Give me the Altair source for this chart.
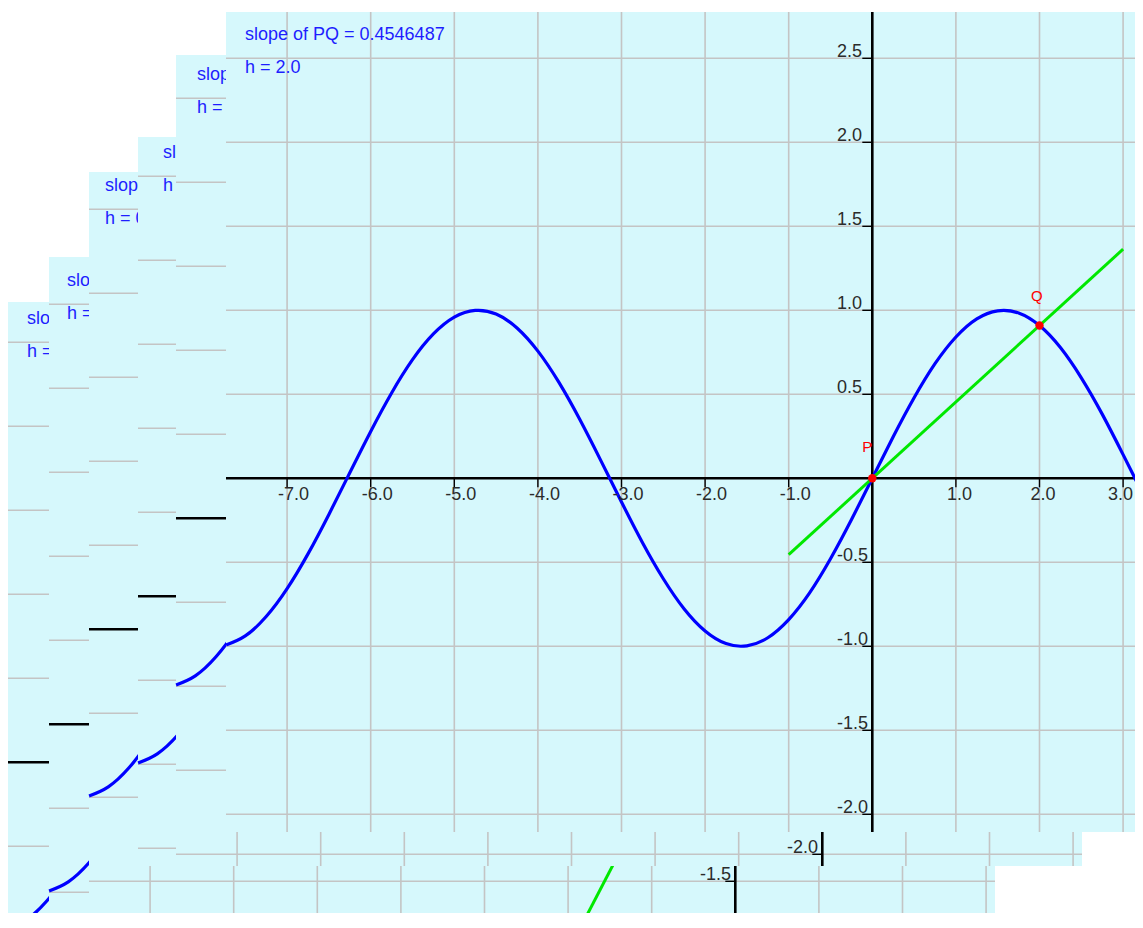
import altair as alt
import pandas as pd

# ---------------- data ----------------
# sampled points of the plotted curve (x, y)
curve_x = [-7.73, -7.5, -7.25, -7.0, -6.75, -6.5, -6.25, -6.0, -5.75, -5.5, -5.25, -5.0,
           -4.75, -4.5, -4.25, -4.0, -3.75, -3.5, -3.25, -3.0, -2.75, -2.5, -2.25, -2.0,
           -1.75, -1.5, -1.25, -1.0, -0.75, -0.5, -0.25, 0.0, 0.25, 0.5, 0.75, 1.0, 1.25,
           1.5, 1.75, 2.0, 2.25, 2.5, 2.75, 3.0, 3.25]
curve_y = [-0.992, -0.938, -0.823, -0.657, -0.450, -0.215, 0.033, 0.279, 0.508, 0.706,
           0.859, 0.959, 0.999, 0.978, 0.895, 0.757, 0.572, 0.351, 0.108, -0.141, -0.382,
           -0.598, -0.778, -0.909, -0.984, -0.997, -0.949, -0.841, -0.682, -0.479, -0.247,
           0.0, 0.247, 0.479, 0.682, 0.841, 0.949, 0.997, 0.984, 0.909, 0.778, 0.598,
           0.382, 0.141, -0.108]

grid_x = [-7, -6, -5, -4, -3, -2, -1, 1, 2, 3]
x_labels = ["-7.0", "-6.0", "-5.0", "-4.0", "-3.0", "-2.0", "-1.0", "1.0", "2.0", "3.0"]
grid_y = [2.5, 2.0, 1.5, 1.0, 0.5, -0.5, -1.0, -1.5, -2.0]
y_labels = ["2.5", "2.0", "1.5", "1.0", "0.5", "-0.5", "-1.0", "-1.5", "-2.0"]

# stacked frames, from the back one to the front one
frame_h = [0.1, 0.25, 0.5, 1.0, 1.5, 2.0]
frame_h_text = ["0.1", "0.25", "0.5", "1.0", "1.5", "2.0"]
frame_slope = [0.9983342, 0.9896158, 0.9588511, 0.841471, 0.6649967, 0.4546487]
frame_slope_text = ["0.9983342", "0.9896158", "0.9588511", "0.841471", "0.6649967", "0.4546487"]
secant_x0 = [-0.05, -0.125, -2.0, -0.5, -0.75, -1.0]
secant_x1 = [0.15, 0.375, 1.0, 1.5, 2.25, 3.0]

# ---------------- layout (page pixels) ----------------
PX0, PPX = 872.3, 83.6     # page x of x=0, pixels per x unit
PY0, PPY = 478.3, 168.0    # page y of y=0, pixels per y unit
W, H = 1127, 905
PAGE_L, PAGE_T = 8, 8
LABEL_W = 27               # room kept for an x label at the right edge

# frame offset (dx, dy), visible window rectangle (left, top, right, bottom), text shift
FRAMES = [
    (-219, 284, 7, 302, 913, 1000, -218),
    (-177, 246, 49, 257, 955, 915, -178),
    (-137, 151, 89, 172, 995, 1000, -140),
    (-88, 118, 138, 137, 1044, 866, -82),
    (-50, 40, 176, 55, 1082, 866, -48),
    (0, 0, 226, 12, 1200, 832, 0),
]

BG = "#d6f8fc"
GRID = "#c4c4c4"
AXIS = "#000000"
BLUE = "#0000ff"
GREEN = "#00e800"
RED = "#ff0000"
TXT_BLUE = "#1e1eff"
LABEL = "#2b2b2b"
FONT = "Liberation Sans"


def X(px):
    return (px - PX0) / PPX


def Y(py):
    return (PY0 - py) / PPY


Y_BOTTOM = Y(PAGE_T + H)
X_RIGHT = X(PAGE_L + W)
xs = alt.Scale(domain=[X(PAGE_L), X_RIGHT], nice=False, zero=False)
ys = alt.Scale(domain=[Y_BOTTOM, Y(PAGE_T)], nice=False, zero=False)


def enc_xy(ch):
    return ch.encode(
        x=alt.X("x:Q", scale=xs, axis=None),
        y=alt.Y("y:Q", scale=ys, axis=None),
    )


layers = []
for i, (dx, dy, left, top, right, bottom, tdx) in enumerate(FRAMES):
    sx, sy = dx / PPX, -dy / PPY
    lx0, lx1 = X(left - dx), X(right - dx)
    ly0, ly1 = Y(top - dy), Y(bottom - dy)
    h = frame_h[i]
    m = frame_slope[i]

    # window background
    bg = pd.DataFrame({"x": [X(left)], "x2": [X(right)], "y": [Y(top)], "y2": [Y(bottom)]})
    layers.append(
        alt.Chart(bg).mark_rect(color=BG, clip=True).encode(
            x=alt.X("x:Q", scale=xs, axis=None), x2="x2",
            y=alt.Y("y:Q", scale=ys, axis=None), y2="y2")
    )

    # grid, axes and ticks
    rows = []
    for gx in grid_x:
        rows.append((gx, gx, ly0, ly1, GRID, 1.6))
    for gy in grid_y:
        rows.append((lx0, lx1, gy, gy, GRID, 1.6))
    rows.append((lx0, lx1, 0.0, 0.0, AXIS, 2.6))
    rows.append((0.0, 0.0, ly0, ly1, AXIS, 2.6))
    for gy in grid_y:
        rows.append((-10 / PPX, 0.0, gy, gy, AXIS, 1.4))
    for gx in grid_x:
        rows.append((gx, gx, 0.0, -9 / PPY, AXIS, 1.4))
    rules = pd.DataFrame(rows, columns=["x", "x2", "y", "y2", "c", "w"])
    rules["x"] += sx
    rules["x2"] += sx
    rules["y"] += sy
    rules["y2"] += sy
    layers.append(
        alt.Chart(rules).mark_rule(clip=True).encode(
            x=alt.X("x:Q", scale=xs, axis=None), x2="x2",
            y=alt.Y("y:Q", scale=ys, axis=None), y2="y2",
            color=alt.Color("c:N", scale=None),
            strokeWidth=alt.StrokeWidth("w:Q", scale=None))
    )

    # the curve
    cdf = pd.DataFrame({"x": [v + sx for v in curve_x], "y": [v + sy for v in curve_y]})
    layers.append(enc_xy(alt.Chart(cdf).mark_line(color=BLUE, strokeWidth=3.2,
                                                    interpolate="natural", clip=True)))

    # the secant line PQ
    sdf = pd.DataFrame({"x": [secant_x0[i] + sx, secant_x1[i] + sx],
                        "y": [m * secant_x0[i] + sy, m * secant_x1[i] + sy]})
    layers.append(enc_xy(alt.Chart(sdf).mark_line(color=GREEN, strokeWidth=3, clip=True)))

    # points P and Q
    pdf = pd.DataFrame({"x": [0.0 + sx, h + sx], "y": [0.0 + sy, m * h + sy]})
    layers.append(enc_xy(alt.Chart(pdf).mark_circle(color=RED, size=70, opacity=1, clip=True)))

    # texts
    trows = []
    trows.append((X(245) + (tdx - dx) / PPX, Y(40), "slope of PQ = " + frame_slope_text[i], TXT_BLUE, 18))
    trows.append((X(245) + (tdx - dx) / PPX, Y(73), "h = " + frame_h_text[i], TXT_BLUE, 18))
    trows.append((-10 / PPX, 26 / PPY, "P", RED, 15))
    trows.append((h - 8.5 / PPX, m * h + 24.5 / PPY, "Q", RED, 15))
    for gx, lab in zip(grid_x, x_labels):
        # keep a label at the right edge of the picture whole
        lx = min(gx - 9 / PPX, X_RIGHT - sx - LABEL_W / PPX)
        trows.append((lx, -21.7 / PPY, lab, LABEL, 18))
    for gy, lab in zip(grid_y, y_labels):
        trows.append((X(837), gy + 1 / PPY, lab, LABEL, 18))
    tdf = pd.DataFrame(trows, columns=["x", "y", "t", "c", "s"])
    tdf["x"] += sx
    tdf["y"] += sy
    # texts lying wholly below the picture are never seen
    tdf = tdf[tdf["y"] > Y_BOTTOM]
    layers.append(
        alt.Chart(tdf).mark_text(align="left", baseline="alphabetic", font=FONT, clip=True).encode(
            x=alt.X("x:Q", scale=xs, axis=None),
            y=alt.Y("y:Q", scale=ys, axis=None),
            text="t:N",
            color=alt.Color("c:N", scale=None),
            size=alt.Size("s:Q", scale=None))
    )

chart = (
    alt.layer(*layers)
    .properties(width=W, height=H, padding=0, background="white")
    .configure_view(stroke=None)
)

chart.save("out.html", embed_options={"renderer": "svg", "actions": False})
